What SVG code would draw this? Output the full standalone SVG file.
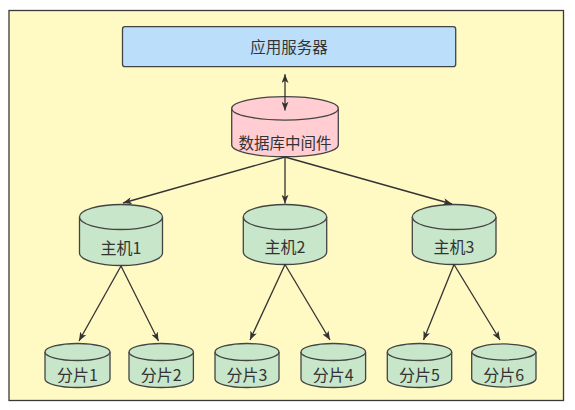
<svg xmlns="http://www.w3.org/2000/svg" width="575" height="410" viewBox="0 0 575 410">
  <defs>
    <marker id="arr" viewBox="0 0 10 8" refX="10" refY="4" markerWidth="9" markerHeight="7" markerUnits="userSpaceOnUse" orient="auto-start-reverse">
      <path d="M0,0 L10,4 L0,8 L2.5,4 z" fill="#333333"/>
    </marker>
  </defs>
  <style>
    .frame { fill: #fff9c4; stroke: #3a3a3a; stroke-width: 1.3; }
    .app { fill: #bbdefb; stroke: #444444; stroke-width: 1.3; }
    .mid { fill: #ffcdd2; stroke: #444444; stroke-width: 1.3; }
    .cyl { fill: #c8e6c9; stroke: #444444; stroke-width: 1.3; }
    .edge { fill: none; stroke: #333333; stroke-width: 1.3; marker-end: url(#arr); }
    text { font-family: "Noto Sans CJK SC", "Noto Sans", sans-serif; fill: #333333; text-anchor: middle; }
    .t16 { font-size: 16px; }
    .t15 { font-size: 15.5px; }
  </style>
  <rect x="0" y="0" width="575" height="410" fill="#ffffff"/>
  <rect class="frame" x="9" y="10.5" width="554.5" height="390"/>

  <g id="app-server">
    <rect class="app" x="122.5" y="26.7" width="333.2" height="40" rx="2.5"/>
    <text class="t15" x="289" y="52.6">应用服务器</text>
  </g>

  <g id="middleware">
    <path class="mid" d="M231.7,108.4 A53.3,11.7 0 0 1 338.3,108.4 L338.3,145 A53.3,11.7 0 0 1 231.7,145 Z"/>
    <path class="mid" fill="none" d="M231.7,108.4 A53.3,11.7 0 0 0 338.3,108.4"/>
    <text class="t15" x="285" y="148.6">数据库中间件</text>
  </g>

  <g id="host1">
    <path class="cyl" d="M79.5,217 A41.5,12.5 0 0 1 162.5,217 L162.5,253 A41.5,12.5 0 0 1 79.5,253 Z"/>
    <path class="cyl" fill="none" d="M79.5,217 A41.5,12.5 0 0 0 162.5,217"/>
    <text class="t16" x="121" y="253.7">主机1</text>
  </g>
  <g id="host2">
    <path class="cyl" d="M243.3,217 A41.7,12.5 0 0 1 326.7,217 L326.7,252 A41.7,12.5 0 0 1 243.3,252 Z"/>
    <path class="cyl" fill="none" d="M243.3,217 A41.7,12.5 0 0 0 326.7,217"/>
    <text class="t16" x="285" y="253">主机2</text>
  </g>
  <g id="host3">
    <path class="cyl" d="M412.3,217 A41.8,12.5 0 0 1 496,217 L496,252 A41.8,12.5 0 0 1 412.3,252 Z"/>
    <path class="cyl" fill="none" d="M412.3,217 A41.8,12.5 0 0 0 496,217"/>
    <text class="t16" x="454" y="253">主机3</text>
  </g>

  <g id="shard1">
    <path class="cyl" d="M45,352 A32.5,8.5 0 0 1 110,352 L110,379 A32.5,8.5 0 0 1 45,379 Z"/>
    <path class="cyl" fill="none" d="M45,352 A32.5,8.5 0 0 0 110,352"/>
    <text class="t16" x="77.5" y="380.5">分片1</text>
  </g>
  <g id="shard2">
    <path class="cyl" d="M129,352 A32.2,8.5 0 0 1 193.4,352 L193.4,379 A32.2,8.5 0 0 1 129,379 Z"/>
    <path class="cyl" fill="none" d="M129,352 A32.2,8.5 0 0 0 193.4,352"/>
    <text class="t16" x="161.2" y="380.5">分片2</text>
  </g>
  <g id="shard3">
    <path class="cyl" d="M215,352 A32,8.5 0 0 1 279,352 L279,379 A32,8.5 0 0 1 215,379 Z"/>
    <path class="cyl" fill="none" d="M215,352 A32,8.5 0 0 0 279,352"/>
    <text class="t16" x="247" y="380.5">分片3</text>
  </g>
  <g id="shard4">
    <path class="cyl" d="M301,352 A32.3,8.5 0 0 1 365.6,352 L365.6,379 A32.3,8.5 0 0 1 301,379 Z"/>
    <path class="cyl" fill="none" d="M301,352 A32.3,8.5 0 0 0 365.6,352"/>
    <text class="t16" x="333.3" y="380.5">分片4</text>
  </g>
  <g id="shard5">
    <path class="cyl" d="M387.3,352 A32.2,8.5 0 0 1 451.7,352 L451.7,379 A32.2,8.5 0 0 1 387.3,379 Z"/>
    <path class="cyl" fill="none" d="M387.3,352 A32.2,8.5 0 0 0 451.7,352"/>
    <text class="t16" x="419.5" y="380.5">分片5</text>
  </g>
  <g id="shard6">
    <path class="cyl" d="M471.7,352 A32.2,8.5 0 0 1 536,352 L536,379 A32.2,8.5 0 0 1 471.7,379 Z"/>
    <path class="cyl" fill="none" d="M471.7,352 A32.2,8.5 0 0 0 536,352"/>
    <text class="t16" x="503.8" y="380.5">分片6</text>
  </g>

  <g id="connectors">
    <path class="edge" style="marker-start: url(#arr)" d="M285,74.3 L285,110.5"/>
    <path class="edge" d="M285,157 L123,203"/>
    <path class="edge" d="M285,157 L285,203.5"/>
    <path class="edge" d="M285,157 L452,204"/>
    <path class="edge" d="M121,266 L79,341"/>
    <path class="edge" d="M121,266 L158.5,341"/>
    <path class="edge" d="M285,264.5 L250,340"/>
    <path class="edge" d="M285,264.5 L330,340"/>
    <path class="edge" d="M454,264.5 L423.5,340"/>
    <path class="edge" d="M454,264.5 L500,340"/>
  </g>
</svg>
